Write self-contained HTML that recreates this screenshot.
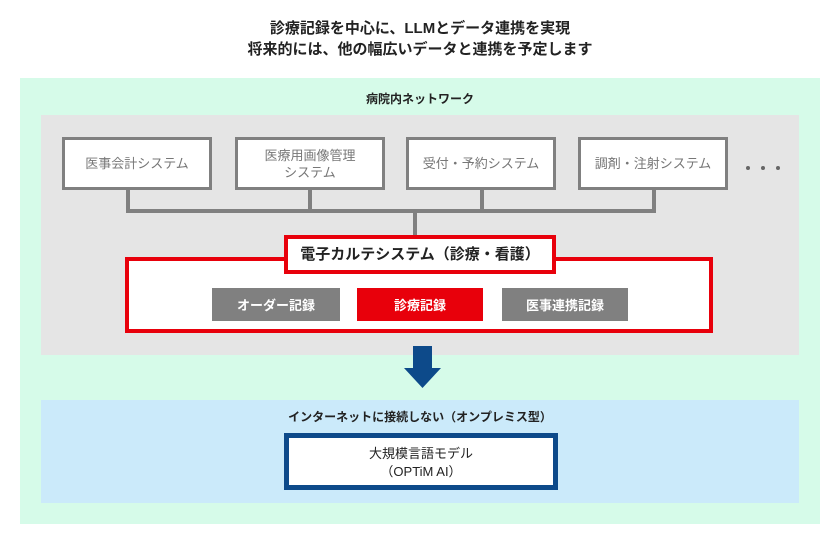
<!DOCTYPE html>
<html><head><meta charset="utf-8"><style>
body{margin:0;width:840px;height:546px;background:#fff;font-family:"Liberation Sans","Noto Sans CJK JP",sans-serif;position:relative;overflow:hidden}
.a{position:absolute;box-sizing:border-box}
.t{text-align:center;font-weight:bold;color:#222}
.sys{background:#fff;border:3px solid #808080;color:#777;font-size:13px;display:flex;align-items:center;justify-content:center;text-align:center;line-height:17px}
.ln{background:#808080}
.btn{color:#fff;font-size:13px;font-weight:bold;display:flex;align-items:center;justify-content:center}
.dot{position:absolute;width:4px;height:4px;border-radius:2px;background:#666;top:166px}
</style></head><body>
<div class="a t" style="left:0;top:18px;width:840px;font-size:15px;line-height:21px">診療記録を中心に、LLMとデータ連携を実現<br>将来的には、他の幅広いデータと連携を予定します</div>
<div class="a" style="left:20px;top:78px;width:800px;height:446px;background:#d6fbe9"></div>
<div class="a t" style="left:0;top:90px;width:840px;font-size:12px">病院内ネットワーク</div>
<div class="a" style="left:41px;top:115px;width:758px;height:240px;background:#e5e5e5"></div>
<div class="a ln" style="left:126px;top:188px;width:4px;height:25px"></div>
<div class="a ln" style="left:308px;top:188px;width:4px;height:25px"></div>
<div class="a ln" style="left:480px;top:188px;width:4px;height:25px"></div>
<div class="a ln" style="left:652px;top:188px;width:4px;height:25px"></div>
<div class="a ln" style="left:126px;top:209px;width:530px;height:4px"></div>
<div class="a ln" style="left:413px;top:209px;width:4px;height:30px"></div>
<div class="a sys" style="left:62px;top:137px;width:150px;height:53px">医事会計システム</div>
<div class="a sys" style="left:235px;top:137px;width:150px;height:53px">医療用画像管理<br>システム</div>
<div class="a sys" style="left:406px;top:137px;width:150px;height:53px">受付・予約システム</div>
<div class="a sys" style="left:578px;top:137px;width:150px;height:53px">調剤・注射システム</div>
<div class="dot" style="left:746px"></div><div class="dot" style="left:761px"></div><div class="dot" style="left:776px"></div>
<div class="a" style="left:125px;top:257px;width:588px;height:76px;background:#fff;border:4px solid #e8000b"></div>
<div class="a t" style="left:284px;top:235px;width:272px;height:39px;background:#fff;border:4px solid #e8000b;font-size:15px;line-height:31px">電子カルテシステム（診療・看護）</div>
<div class="a btn" style="left:212px;top:288px;width:128px;height:33px;background:#808080">オーダー記録</div>
<div class="a btn" style="left:357px;top:288px;width:126px;height:33px;background:#e8000b">診療記録</div>
<div class="a btn" style="left:502px;top:288px;width:126px;height:33px;background:#808080">医事連携記録</div>
<svg class="a" style="left:398px;top:344px" width="46" height="46"><path d="M15 2H34V24H43L24.5 44L6 24H15Z" fill="#0d4a8a"/></svg>
<div class="a" style="left:41px;top:400px;width:758px;height:103px;background:#cbeafa"></div>
<div class="a t" style="left:0;top:408px;width:840px;font-size:12px">インターネットに接続しない（オンプレミス型）</div>
<div class="a" style="left:284px;top:433px;width:274px;height:57px;background:#fff;border:5px solid #0d4a8a;text-align:center;font-size:13px;color:#222;line-height:18px;padding-top:7px">大規模言語モデル<br>（OPTiM AI）</div>
</body></html>
